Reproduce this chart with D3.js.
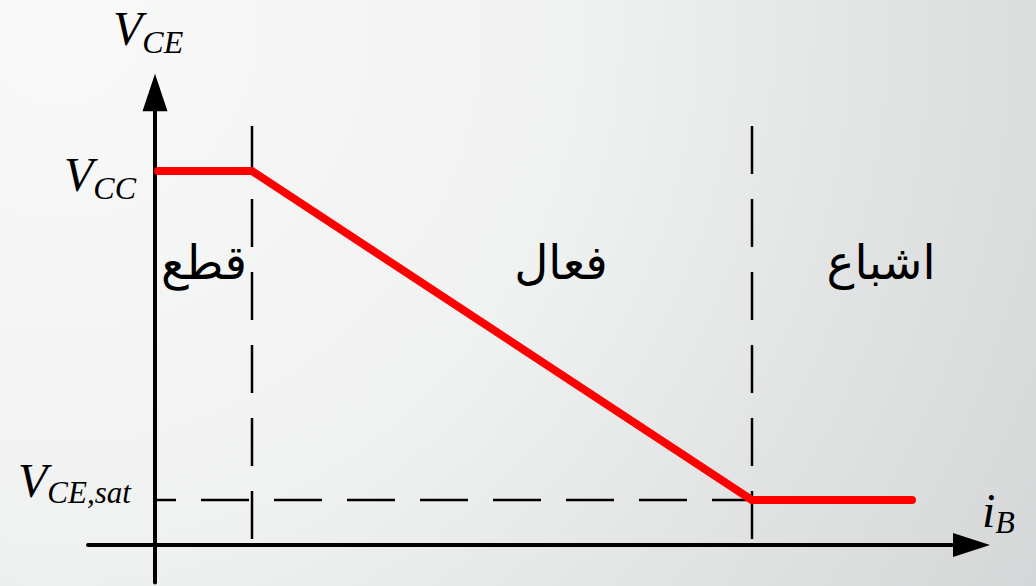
<!DOCTYPE html>
<html>
<head>
<meta charset="utf-8">
<script src="https://cdn.jsdelivr.net/npm/d3@7"></script>
<style>
  html, body { margin: 0; padding: 0; overflow: hidden; }
  #chart { width: 1036px; height: 586px; }
</style>
</head>
<body>
<div id="chart"></div>
<script>
// transfer curve of the transistor switch: base current vs collector-emitter voltage
const ibPoints = [0.06, 1, 6, 7.6];
const vcePoints = [1, 1, 0.12, 0.12];

// region borders (cut-off / active / saturation)
const ibBorders = [1, 6];
const vceSat = 0.12;
const vcc = 1;

// region names, Persian
const regionNames = ["قطع", "فعال", "اشباع"];
const regionCenters = [0.52, 4.09, 7.29];

const width = 1036, height = 586;

const x = d3.scaleLinear().domain([0, 8.5]).range([152, 1002]);
const y = d3.scaleLinear().domain([0, 1]).range([545, 171]);

const svg = d3.select("#chart")
    .append("svg")
    .attr("width", width)
    .attr("height", height);

// background
const defs = svg.append("defs");
const grad = defs.append("radialGradient")
    .attr("id", "bg")
    .attr("gradientUnits", "userSpaceOnUse")
    .attr("cx", 60).attr("cy", 20).attr("r", 1150);
grad.append("stop").attr("offset", "0%").attr("stop-color", "#f9f9f9");
grad.append("stop").attr("offset", "45%").attr("stop-color", "#f0f1f1");
grad.append("stop").attr("offset", "100%").attr("stop-color", "#d3d5d6");

svg.append("rect")
    .attr("width", width)
    .attr("height", height)
    .attr("fill", "url(#bg)");

// dashed guides
const dash = "48,25";
svg.selectAll(".vguide")
    .data(ibBorders)
    .join("line")
    .attr("x1", d => x(d)).attr("x2", d => x(d))
    .attr("y1", y(1.12)).attr("y2", y(0.016))
    .attr("stroke", "#000")
    .attr("stroke-width", 2.5)
    .attr("stroke-dasharray", dash);

svg.append("line")
    .attr("x1", x(6.08)).attr("x2", x(0.01))
    .attr("y1", y(vceSat)).attr("y2", y(vceSat))
    .attr("stroke", "#000")
    .attr("stroke-width", 2.5)
    .attr("stroke-dasharray", dash);

// axes
svg.append("line")
    .attr("x1", x(-0.64)).attr("x2", x(8.0))
    .attr("y1", y(0)).attr("y2", y(0))
    .attr("stroke", "#000").attr("stroke-width", 4)
    .attr("stroke-linecap", "round");
svg.append("path")
    .attr("d", `M${x(8.38)},${y(0)} L${x(8.01)},${y(0) - 12} L${x(8.01)},${y(0) + 12} Z`)
    .attr("fill", "#000");

svg.append("line")
    .attr("x1", x(0.03)).attr("x2", x(0.03))
    .attr("y1", y(-0.1)).attr("y2", y(1.17))
    .attr("stroke", "#000").attr("stroke-width", 4)
    .attr("stroke-linecap", "round");
svg.append("path")
    .attr("d", `M${x(0.03)},${y(1.26)} L${x(0.03) - 12.5},${y(1.16)} L${x(0.03) + 12.5},${y(1.16)} Z`)
    .attr("fill", "#000");

// curve
const line = d3.line()
    .x((d, i) => x(d))
    .y((d, i) => y(vcePoints[i]));

svg.append("path")
    .datum(ibPoints)
    .attr("d", line)
    .attr("fill", "none")
    .attr("stroke", "#ff0000")
    .attr("stroke-width", 8)
    .attr("stroke-linecap", "round")
    .attr("stroke-linejoin", "round");

// labels
const serif = "'Liberation Serif', 'Times New Roman', serif";

function symbol(px, py, main, sub, size, subSize, dy) {
    const t = svg.append("text")
        .attr("x", px).attr("y", py)
        .attr("font-family", serif)
        .attr("font-style", "italic")
        .attr("font-size", size)
        .attr("fill", "#000");
    t.append("tspan").text(main);
    t.append("tspan").attr("font-size", subSize).attr("dy", dy).text(sub);
}

symbol(113, 45, "V", "CE", 48, 32, 8);
symbol(64, 191, "V", "CC", 48, 32, 8);
symbol(18, 497, "V", "CE,sat", 48, 31, 6);
symbol(982, 527, "i", "B", 48, 32, 6);

// region names
svg.selectAll(".region")
    .data(regionNames)
    .join("text")
    .attr("x", (d, i) => x(regionCenters[i]))
    .attr("y", 279)
    .attr("text-anchor", "middle")
    .attr("direction", "rtl")
    .attr("font-family", "'DejaVu Sans', sans-serif")
    .attr("font-size", 47)
    .attr("fill", "#000")
    .text(d => d);
</script>
</body>
</html>
